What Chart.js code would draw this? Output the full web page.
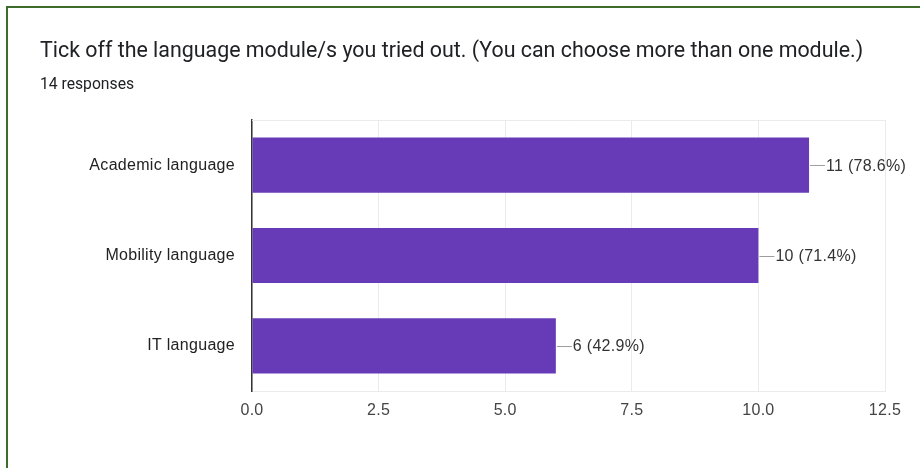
<!DOCTYPE html>
<html>
<head>
<meta charset="utf-8">
<script src="https://cdn.jsdelivr.net/npm/chart.js@4"></script>
<style>
html,body{margin:0;padding:0;background:#fff;}
#wrap{position:relative;width:920px;height:468px;overflow:hidden;background:#fff;}
#frame{position:absolute;left:6px;top:6px;width:930px;height:480px;border-left:2px solid #3d6b2a;border-top:2px solid #3d6b2a;box-sizing:border-box;}
#title{position:absolute;left:40px;top:37px;font-family:Roboto,"Liberation Sans",sans-serif;font-size:21.4px;color:#202124;white-space:nowrap;}
#sub{position:absolute;left:40px;top:74px;font-family:Roboto,"Liberation Sans",sans-serif;font-size:15.7px;color:#202124;white-space:nowrap;}
canvas{position:absolute;left:0;top:0;}
</style>
</head>
<body>
<div id="wrap">
<div id="frame"></div>
<canvas id="c" width="920" height="468"></canvas>
<div id="title">Tick off the language module/s you tried out. (You can choose more than one module.)</div>
<div id="sub">14 responses</div>
</div>
<script>
const categories = ["Academic language", "Mobility language", "IT language"];
const counts = [11, 10, 6];
const percents = ["78.6%", "71.4%", "42.9%"];
const xTicks = [0, 2.5, 5, 7.5, 10, 12.5];
const FONT = '"Liberation Sans", Arial, sans-serif';

const spacingPlugin = {
  id: 'spacing',
  beforeDraw(chart) { chart.ctx.letterSpacing = '0.3px'; }
};

const labelPlugin = {
  id: 'leaderLabels',
  afterDatasetsDraw(chart) {
    const ctx = chart.ctx;
    const meta = chart.getDatasetMeta(0);
    ctx.save();
    ctx.font = '16px ' + FONT;
    ctx.textBaseline = 'middle';
    meta.data.forEach((bar, i) => {
      const x = bar.x, y = bar.y;
      ctx.strokeStyle = '#9e9e9e';
      ctx.lineWidth = 1;
      ctx.beginPath();
      ctx.moveTo(x + 1, Math.round(y) + 0.5);
      ctx.lineTo(x + 16, Math.round(y) + 0.5);
      ctx.stroke();
      ctx.fillStyle = '#333';
      ctx.textAlign = 'left';
      ctx.fillText(counts[i] + ' (' + percents[i] + ')', x + 17, y + 1);
    });
    ctx.restore();
  },
  beforeDatasetsDraw(chart) {
    const ctx = chart.ctx, a = chart.chartArea;
    ctx.save();
    ctx.strokeStyle = '#ebebeb';
    ctx.lineWidth = 1;
    ctx.beginPath();
    ctx.moveTo(a.left, a.top + 0.5);
    ctx.lineTo(a.right, a.top + 0.5);
    ctx.stroke();
    ctx.restore();
  }
};

new Chart(document.getElementById('c'), {
  type: 'bar',
  data: {
    labels: categories,
    datasets: [{
      data: counts,
      backgroundColor: '#673ab7',
      borderWidth: 0,
      barPercentage: 0.61,
      categoryPercentage: 1.0
    }]
  },
  options: {
    indexAxis: 'y',
    responsive: false,
    animation: false,
    layout: { padding: { top: 120, right: 35, left: 0, bottom: 0 } },
    plugins: { legend: { display: false }, tooltip: { enabled: false } },
    scales: {
      x: {
        min: 0, max: 12.5,
        afterBuildTicks(s) { s.ticks = xTicks.map(v => ({ value: v })); },
        afterFit(s) { s.height = 77; },
        grid: { color: '#ebebeb', drawTicks: false },
        border: { display: true, color: '#ebebeb' },
        ticks: {
          padding: 10,
          color: '#444',
          font: { family: FONT, size: 16 },
          callback: v => Number(v).toFixed(1)
        }
      },
      y: {
        afterFit(s) { s.width = 252; },
        grid: { display: false, drawTicks: false },
        border: { display: true, color: '#333', width: 1.5 },
        ticks: {
          padding: 17,
          color: '#222',
          font: { family: FONT, size: 16 }
        }
      }
    }
  },
  plugins: [spacingPlugin, labelPlugin]
});
</script>
</body>
</html>
